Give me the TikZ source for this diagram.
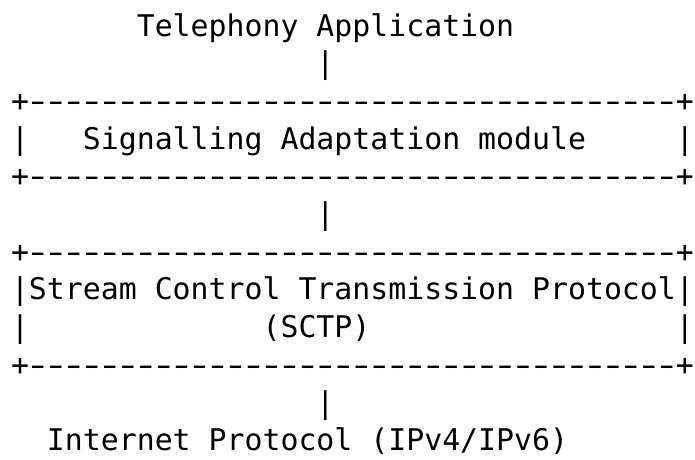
\documentclass[tikz,border=0pt]{standalone}
\usepackage{fontspec}
\usepackage{graphicx}
\setmonofont{DejaVu Sans Mono}
% one wide dash occupying a single character cell
\newcommand\dsh{\makebox[0.602em]{\scalebox{1.5}[1]{-}}}
\newcommand\dfour{\dsh\dsh\dsh\dsh}
\newcommand\boxrule{+\dfour\dfour\dfour\dfour\dfour\dfour\dfour\dfour\dfour+}
\begin{document}
\begin{tikzpicture}[x=17.97pt,y=37.7pt,
  ascii/.style={anchor=base west,inner sep=0pt,outer sep=0pt,
    font=\ttfamily\fontsize{29.85pt}{37.7pt}\selectfont}]
\useasboundingbox[fill=white] (-11pt,36pt) rectangle (684pt,-423pt);
% application on top
\node[ascii] (tel) at (7,0) {Telephony Application};
\node[ascii] (v1) at (17,-1) {|};
% signalling adaptation box
\node[ascii] (top1) at (0,-2) {\boxrule};
\node[ascii] (l1) at (0,-3) {|};
\node[ascii] (sam) at (4,-3) {Signalling Adaptation module};
\node[ascii] (r1) at (37,-3) {|};
\node[ascii] (bot1) at (0,-4) {\boxrule};
\node[ascii] (v2) at (17,-5) {|};
% SCTP box
\node[ascii] (top2) at (0,-6) {\boxrule};
\node[ascii] (sctpname) at (0,-7) {|Stream Control Transmission Protocol|};
\node[ascii] (l2) at (0,-8) {|};
\node[ascii] (sctp) at (14,-8) {(SCTP)};
\node[ascii] (r2) at (37,-8) {|};
\node[ascii] (bot2) at (0,-9) {\boxrule};
\node[ascii] (v3) at (17,-10) {|};
% network layer
\node[ascii] (ip) at (2,-11) {Internet Protocol (IPv4/IPv6)};
\end{tikzpicture}
\end{document}
